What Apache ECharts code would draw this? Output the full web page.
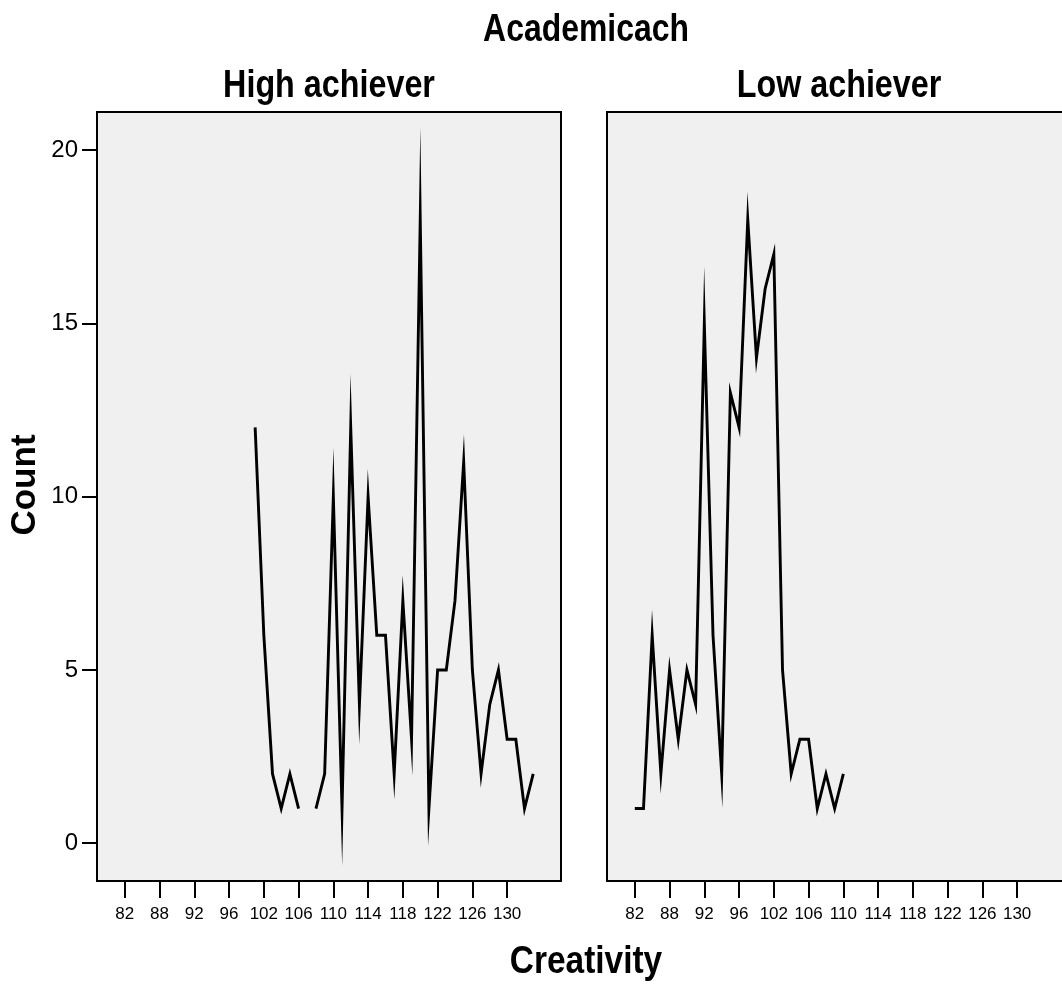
<!DOCTYPE html>
<html><head><meta charset="utf-8">
<script src="https://cdn.jsdelivr.net/npm/echarts@6/dist/echarts.min.js"></script>
<style>html,body{margin:0;padding:0;background:#fff}#c{width:1062px;height:989px}</style>
</head><body><div id="c"></div>
<script>
// Creativity categories (x axis, one per step)
const categories = [82,84,85,86,88,89,90,91,92,93,94,95,96,98,99,100,102,103,104,105,106,107,108,109,110,111,112,113,114,115,116,117,118,119,120,121,122,123,124,125,126,127,128,129,130,131,132,134];
// Tick labels shown on the x axis
const tickLabels = ['82','88','92','96','102','106','110','114','118','122','126','130'];
// Count ticks on the y axis
const yTicks = [0,5,10,15,20];
// Counts per creativity category (null = no cases)
const highAchiever = [null,null,null,null,null,null,null,null,null,null,null,null,null,null,null,
  12,6,2,1,2,1,null,1,2,10,1,12,4,10,6,6,2,7,3,18,1,5,5,7,11,5,2,4,5,3,3,1,2];
const lowAchiever = [1,1,6,2,5,3,5,4,15,6,2,13,12,18,14,16,17,5,2,3,3,1,2,1,2,
  null,null,null,null,null,null,null,null,null,null,null,null,null,null,null,null,null,null,null,null,null,null,null];
const panelTitles = ['High achiever','Low achiever'];
const mainTitle = 'Academicach';
const xTitle = 'Creativity';
const yTitle = 'Count';

const SANS = '"Liberation Sans", Arial, sans-serif';
const tickIdx = tickLabels.map(l => categories.indexOf(Number(l)));

const gridTop = 112, gridH = 769, gridW = 464;
const gridLefts = [97, 607];

function xAxis(gi){
  return {
    type:'value', gridIndex:gi, min:-3.2, max:50.2,
    axisLine:{show:true, onZero:false, lineStyle:{color:'#000', width:2}},
    axisTick:{show:true, length:17, customValues:tickIdx, lineStyle:{color:'#000', width:2}},
    axisLabel:{show:true, customValues:tickIdx, formatter:v => String(categories[Math.round(v)]),
      fontSize:17, fontFamily:SANS, color:'#000', margin:25, hideOverlap:false},
    splitLine:{show:false}
  };
}
function yAxis(gi, show){
  return {
    type:'value', gridIndex:gi, min:-1.09, max:21.1,
    axisLine:{show:true, onZero:false, lineStyle:{color:'#000', width:2}},
    axisTick:{show:show, length:15, customValues:yTicks, lineStyle:{color:'#000', width:2}},
    axisLabel:{show:show, customValues:yTicks, fontSize:24, fontFamily:SANS, color:'#000', margin:19},
    splitLine:{show:false}
  };
}
function toPairs(arr){ return arr.map((v,i) => [i, v == null ? '-' : v]); }
function label(text, x, y, size, sx, rot){
  return {type:'text', x:x, y:y, scaleX:sx, rotation:rot || 0, silent:true,
    style:{text:text, font:'bold ' + size + 'px ' + SANS, textAlign:'center', textVerticalAlign:'top',
      align:'center', verticalAlign:'top', fill:'#000'}};
}

const chart = echarts.init(document.getElementById('c'), null, {renderer:'canvas'});
chart.setOption({
  animation:false,
  backgroundColor:'#fff',
  graphic:[
    label(mainTitle, 586, 12, 38, 0.84),
    label(panelTitles[0], gridLefts[0] + gridW/2, 68, 38, 0.85),
    label(panelTitles[1], gridLefts[1] + gridW/2, 68, 38, 0.85),
    label(xTitle, 586, 944, 38, 0.88),
    {type:'text', x:25, y:485, rotation:Math.PI/2, silent:true,
      style:{text:yTitle, font:'bold 35px ' + SANS, textAlign:'center', textVerticalAlign:'middle',
        align:'center', verticalAlign:'middle', fill:'#000'}}
  ],
  grid: gridLefts.map(l => ({left:l, top:gridTop, width:gridW, height:gridH, show:true,
    backgroundColor:'#f0f0f0', borderColor:'#000', borderWidth:2, containLabel:false,
    outerBoundsMode:'none'})),
  xAxis:[xAxis(0), xAxis(1)],
  yAxis:[yAxis(0,true), yAxis(1,false)],
  series:[
    {type:'line', name:panelTitles[0], xAxisIndex:0, yAxisIndex:0, data:toPairs(highAchiever),
      symbol:'none', showSymbol:false, connectNulls:false, silent:true,
      lineStyle:{color:'#000', width:2.9, join:'miter', miterLimit:400, cap:'butt'}},
    {type:'line', name:panelTitles[1], xAxisIndex:1, yAxisIndex:1, data:toPairs(lowAchiever),
      symbol:'none', showSymbol:false, connectNulls:false, silent:true,
      lineStyle:{color:'#000', width:2.9, join:'miter', miterLimit:400, cap:'butt'}}
  ]
});
</script></body></html>
